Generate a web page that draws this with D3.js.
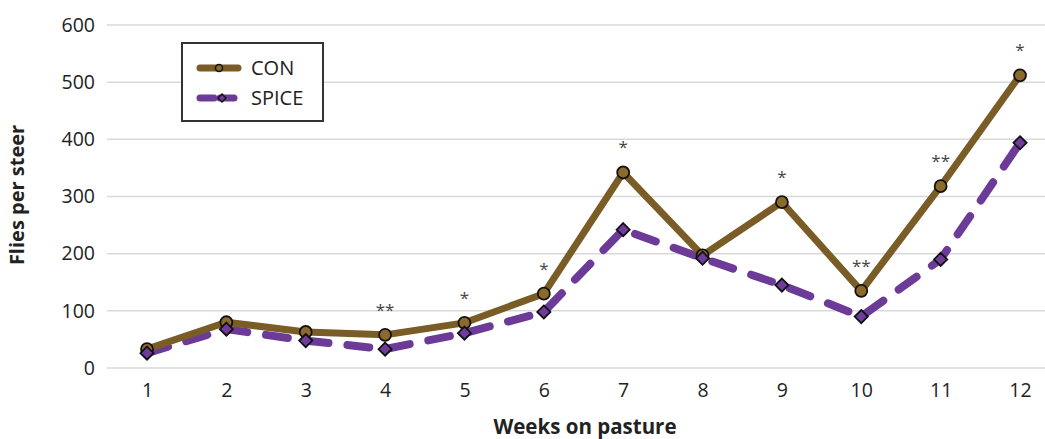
<!DOCTYPE html>
<html><head><meta charset="utf-8">
<script src="https://cdn.jsdelivr.net/npm/d3@7"></script>
<style>body{margin:0;background:#fff}svg{display:block;font-family:"Open Sans","Liberation Sans",sans-serif}</style>
</head><body><svg id="c" width="1045" height="439"></svg>
<script>
const weeks = ["1","2","3","4","5","6","7","8","9","10","11","12"];
const con = [33, 80, 63, 58, 79, 130, 342, 197, 290, 135, 318, 512];
const spice = [26, 68, 48, 33, 61, 98, 242, 192, 145, 90, 190, 394];
const signif = ["", "", "", "**", "*", "*", "*", "", "*", "**", "**", "*"];
const yTicks = [0, 100, 200, 300, 400, 500, 600];

const svg = d3.select("#c");
const x = d3.scalePoint().domain(weeks).range([147, 1020]);
const y = d3.scaleLinear().domain([0, 600]).range([368, 25]);

// gridlines
svg.append("g").selectAll("line").data(yTicks).join("line")
  .attr("x1", 107).attr("x2", 1045)
  .attr("y1", d => y(d)).attr("y2", d => y(d))
  .attr("stroke", "#d9d9d9").attr("stroke-width", 1.5);

// y axis labels
const yAxis = svg.append("g").attr("transform", "translate(107,0)")
  .call(d3.axisLeft(y).tickValues(yTicks).tickSize(0).tickPadding(12));
yAxis.select(".domain").remove();
yAxis.selectAll("text").attr("font-size", 19.5).attr("fill", "#222").attr("font-family", "Open Sans");

// x axis labels
const xAxis = svg.append("g").attr("transform", "translate(0,368)")
  .call(d3.axisBottom(x).tickSize(0).tickPadding(15));
xAxis.select(".domain").remove();
xAxis.selectAll("text").attr("font-size", 19.5).attr("fill", "#222").attr("font-family", "Open Sans");

// axis titles
svg.append("text").attr("x", 585).attr("y", 434).attr("text-anchor", "middle")
  .attr("font-size", 20.5).attr("font-weight", "bold").attr("fill", "#222").text("Weeks on pasture");
svg.append("text").attr("transform", "translate(24,195) rotate(-90)").attr("text-anchor", "middle")
  .attr("font-size", 20).attr("font-weight", "bold").attr("fill", "#222").text("Flies per steer");

const conColor = "#7a5c27", spiceColor = "#6c3b98";
const line = d3.line().x((d, i) => x(weeks[i])).y(d => y(d));

// SPICE line
svg.append("path").datum(spice).attr("d", line).attr("fill", "none")
  .attr("stroke", spiceColor).attr("stroke-width", 8).attr("stroke-linecap", "round")
  .attr("stroke-dasharray", "22,19");
// CON line
svg.append("path").datum(con).attr("d", line).attr("fill", "none")
  .attr("stroke", conColor).attr("stroke-width", 7).attr("stroke-linejoin", "round");

// CON markers
svg.append("g").selectAll("circle").data(con).join("circle")
  .attr("cx", (d, i) => x(weeks[i])).attr("cy", d => y(d)).attr("r", 6)
  .attr("fill", "#8c6a2c").attr("stroke", "#111").attr("stroke-width", 1.8);
// SPICE markers
const diamond = d3.symbol().type(d3.symbolDiamond2).size(110);
svg.append("g").selectAll("path").data(spice).join("path")
  .attr("d", diamond)
  .attr("transform", (d, i) => `translate(${x(weeks[i])},${y(d)})`)
  .attr("fill", "#6f3c9c").attr("stroke", "#111").attr("stroke-width", 1.8);

// significance marks
svg.append("g").selectAll("text").data(con).join("text")
  .attr("x", (d, i) => x(weeks[i])).attr("y", d => y(d) - 19)
  .attr("text-anchor", "middle").attr("font-size", 17).attr("fill", "#444")
  .text((d, i) => signif[i]);

// legend
const lg = svg.append("g");
lg.append("rect").attr("x", 182).attr("y", 43).attr("width", 141).attr("height", 78)
  .attr("fill", "#fff").attr("stroke", "#333").attr("stroke-width", 2);
const legendItems = [
  {name: "CON", color: conColor, dash: null, marker: "circle", yy: 68},
  {name: "SPICE", color: spiceColor, dash: "14,6", marker: "diamond", yy: 98}
];
legendItems.forEach(it => {
  lg.append("line").attr("x1", 200).attr("x2", 238).attr("y1", it.yy).attr("y2", it.yy)
    .attr("stroke", it.color).attr("stroke-width", 7).attr("stroke-linecap", "round")
    .attr("stroke-dasharray", it.dash);
  if (it.marker === "circle") {
    lg.append("circle").attr("cx", 219).attr("cy", it.yy).attr("r", 3.5)
      .attr("fill", "#8c6a2c").attr("stroke", "#111").attr("stroke-width", 1.5);
  } else {
    lg.append("path").attr("d", d3.symbol().type(d3.symbolDiamond2).size(40))
      .attr("transform", `translate(222,${it.yy})`)
      .attr("fill", "#6f3c9c").attr("stroke", "#111").attr("stroke-width", 1.5);
  }
  lg.append("text").attr("x", 251).attr("y", it.yy + 7).attr("font-size", 20)
    .attr("fill", "#222").text(it.name);
});
</script></body></html>
